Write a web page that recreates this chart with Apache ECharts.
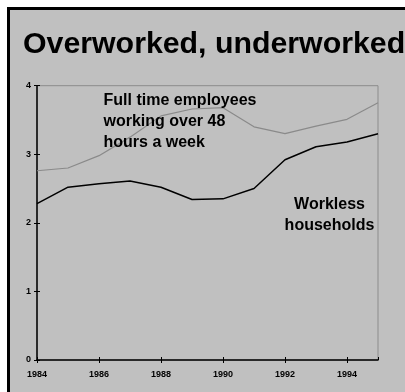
<!DOCTYPE html>
<html>
<head>
<meta charset="utf-8">
<script src="https://cdn.jsdelivr.net/npm/echarts@6/dist/echarts.min.js"></script>
<style>
  html, body { margin: 0; padding: 0; background: #ffffff; }
  #chart { width: 405px; height: 392px; }
</style>
</head>
<body>
<div id="chart"></div>
<script>
// Years on the horizontal axis
var years = [1984, 1985, 1986, 1987, 1988, 1989, 1990, 1991, 1992, 1993, 1994, 1995];
// Workless households (black line)
var workless = [2.28, 2.52, 2.57, 2.61, 2.52, 2.34, 2.35, 2.50, 2.92, 3.11, 3.18, 3.30];
// Full time employees working over 48 hours a week (grey line)
var overworked = [2.76, 2.80, 2.98, 3.25, 3.56, 3.66, 3.68, 3.40, 3.30, 3.41, 3.51, 3.75];

var titleText = 'Overworked, underworked';
var overLabel = 'Full time employees\nworking over 48\nhours a week';
var worklessLabel = 'Workless\nhouseholds';

var FONT = '"Liberation Sans", Arial, sans-serif';

function pairs(xs, ys) {
  return xs.map(function (x, i) { return [x, ys[i]]; });
}

var chart = echarts.init(document.getElementById('chart'), null, { renderer: 'canvas' });

var tickLabel = { fontFamily: FONT, fontSize: 9, fontWeight: 'bold', color: '#000' };

chart.setOption({
  animation: false,
  backgroundColor: '#ffffff',
  grid: {
    left: 37, top: 85.7, right: 27, bottom: 32,
    show: true, borderColor: '#8c8c8c', borderWidth: 1, backgroundColor: 'transparent'
  },
  graphic: [
    { type: 'rect', z: -10, shape: { x: 7, y: 7, width: 420, height: 420 }, style: { fill: '#000' } },
    { type: 'rect', z: -9, shape: { x: 10, y: 10, width: 420, height: 420 }, style: { fill: '#c0c0c0' } },
    {
      type: 'text', left: 23, top: 30, z: 10,
      style: { text: titleText, font: 'bold 30.3px ' + FONT, fill: '#000' }
    },
    {
      type: 'text', x: 103.5, y: 90.5, z: 10,
      style: {
        text: overLabel, font: 'bold 16px ' + FONT, fill: '#000',
        lineHeight: 21, align: 'left', verticalAlign: 'top'
      }
    },
    {
      type: 'text', x: 329.5, y: 193.5, z: 10,
      style: {
        text: worklessLabel, font: 'bold 16px ' + FONT, fill: '#000',
        lineHeight: 21.7, align: 'center', verticalAlign: 'top'
      }
    }
  ],
  xAxis: [
    {
      type: 'value', min: 1984, max: 1995, interval: 2,
      splitLine: { show: false },
      axisLine: { show: true, lineStyle: { color: '#000', width: 1.5 } },
      axisTick: { show: true, length: 3, lineStyle: { color: '#000', width: 1 } },
      axisLabel: Object.assign({ margin: 10, showMaxLabel: false, formatter: function (v) { return String(v); } }, tickLabel)
    },
    {
      type: 'value', min: 1984, max: 1995, interval: 2, position: 'bottom',
      splitLine: { show: false },
      axisLine: { show: false },
      axisTick: { show: true, inside: true, length: 3, lineStyle: { color: '#000', width: 1 } },
      axisLabel: { show: false }
    }
  ],
  yAxis: [
    {
      type: 'value', min: 0, max: 4, interval: 1,
      splitLine: { show: false },
      axisLine: { show: true, lineStyle: { color: '#000', width: 1.5 } },
      axisTick: { show: true, length: 3, lineStyle: { color: '#000', width: 1 } },
      axisLabel: Object.assign({ margin: 6 }, tickLabel)
    },
    {
      type: 'value', min: 0, max: 4, interval: 1, position: 'left',
      splitLine: { show: false },
      axisLine: { show: false },
      axisTick: { show: true, inside: true, length: 3, lineStyle: { color: '#000', width: 1 } },
      axisLabel: { show: false }
    }
  ],
  series: [
    {
      type: 'line', name: 'Full time employees working over 48 hours a week',
      data: pairs(years, overworked), symbol: 'none',
      lineStyle: { color: '#8a8a8a', width: 1.2 }
    },
    {
      type: 'line', name: 'Workless households',
      data: pairs(years, workless), symbol: 'none',
      lineStyle: { color: '#000', width: 1.5 }
    }
  ]
});
</script>
</body>
</html>
